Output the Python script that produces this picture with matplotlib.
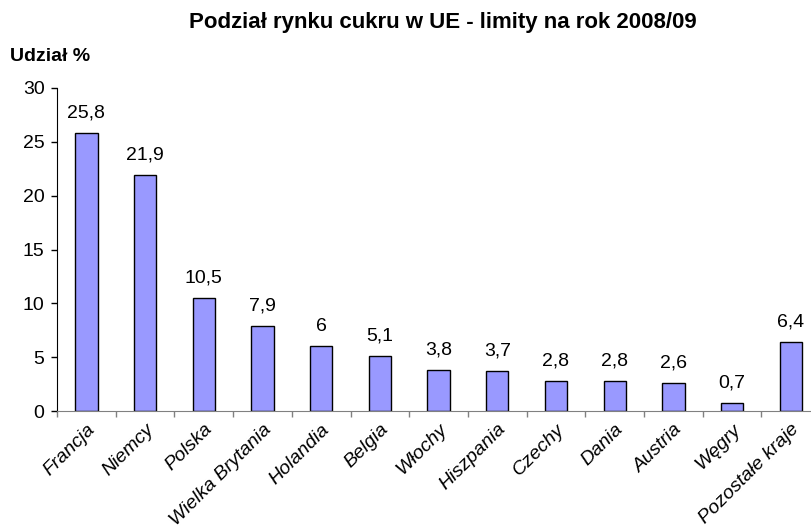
import matplotlib.pyplot as plt

plt.rcParams['font.family'] = ['Liberation Sans', 'DejaVu Sans']

countries = ["Francja", "Niemcy", "Polska", "Wielka Brytania", "Holandia", "Belgia",
             "Włochy", "Hiszpania", "Czechy", "Dania", "Austria", "Węgry", "Pozostałe kraje"]
shares = [25.8, 21.9, 10.5, 7.9, 6, 5.1, 3.8, 3.7, 2.8, 2.8, 2.6, 0.7, 6.4]
labels = ["25,8", "21,9", "10,5", "7,9", "6", "5,1", "3,8", "3,7", "2,8", "2,8", "2,6", "0,7", "6,4"]

fig = plt.figure(figsize=(8.11, 5.32), dpi=100)
ax = fig.add_axes([0.0703, 0.2274, 0.941, 0.6072])

x = range(len(countries))
ax.bar(x, shares, width=0.38, color="#9999FF", edgecolor="black", linewidth=1)
for i, (v, t) in enumerate(zip(shares, labels)):
    ax.text(i, v + 1.1, t, ha="center", va="bottom", fontsize=14)

ax.set_xlim(-0.5, len(countries) - 0.5)
ax.set_ylim(0, 30)
ax.set_yticks([0, 5, 10, 15, 20, 25, 30])
ax.tick_params(axis="y", labelsize=14, direction="out", length=4, width=1, pad=5)

ax.set_xticks([i + 0.5 for i in range(-1, len(countries))], minor=True)
ax.set_xticks(list(x))
ax.set_xticklabels(countries, rotation=45, ha="right", rotation_mode="anchor",
                   fontstyle="italic", fontsize=14)
ax.tick_params(axis="x", which="major", length=0, pad=7)
ax.tick_params(axis="x", which="minor", length=4, width=1, color="gray")

ax.spines["top"].set_visible(False)
ax.spines["right"].set_visible(False)
ax.spines["bottom"].set_color("gray")

fig.text(0.546, 0.958, "Podział rynku cukru w UE - limity na rok 2008/09",
         ha="center", va="center", fontsize=16, fontweight="bold")
fig.text(0.012, 0.893, "Udział %", ha="left", va="center", fontsize=14, fontweight="bold")

fig.savefig("out.png", dpi=100)
